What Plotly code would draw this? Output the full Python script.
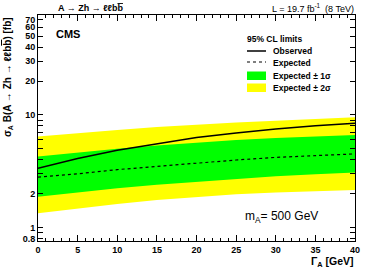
import plotly.graph_objects as go

# ---- data ----
width_gev = [0, 5, 10, 15, 20, 25, 30, 35, 40]
observed = [3.37, 4.10, 4.85, 5.50, 6.30, 6.90, 7.50, 8.00, 8.45]
expected = [2.80, 3.00, 3.27, 3.50, 3.75, 3.98, 4.20, 4.38, 4.51]
sig1_up = [4.27, 4.65, 5.00, 5.35, 5.70, 6.00, 6.25, 6.45, 6.65]
sig1_dn = [1.88, 2.05, 2.23, 2.40, 2.55, 2.72, 2.85, 2.97, 3.08]
sig2_up = [6.42, 6.90, 7.35, 7.80, 8.20, 8.55, 8.90, 9.25, 9.54]
sig2_dn = [1.34, 1.48, 1.62, 1.76, 1.88, 1.98, 2.05, 2.11, 2.16]

y_tickvals = [0.8, 1, 2, 10, 20, 30, 40, 50, 60, 70]
y_ticktext = ["0.8", "1", "2", "10", "20", "30", "40", "50", "60", "70"]
y_minor = [0.9, 3, 4, 5, 6, 7, 8, 9]
y_long = [1, 10]
x_tickvals = [0, 5, 10, 15, 20, 25, 30, 35, 40]

FONT = "Liberation Sans, Arial, Helvetica, sans-serif"
YELLOW = "#FFFF00"
GREEN = "#00FF00"
BBAR = 'b<span style="text-decoration:overline">b</span>'

fig = go.Figure()
fig.add_trace(go.Scatter(x=width_gev, y=sig2_dn, mode="lines", line=dict(width=0),
                         showlegend=False, hoverinfo="skip"))
fig.add_trace(go.Scatter(x=width_gev, y=sig2_up, mode="lines", line=dict(width=0),
                         fill="tonexty", fillcolor=YELLOW, showlegend=False))
fig.add_trace(go.Scatter(x=width_gev, y=sig1_dn, mode="lines", line=dict(width=0),
                         showlegend=False, hoverinfo="skip"))
fig.add_trace(go.Scatter(x=width_gev, y=sig1_up, mode="lines", line=dict(width=0),
                         fill="tonexty", fillcolor=GREEN, showlegend=False))
fig.add_trace(go.Scatter(x=width_gev, y=expected, mode="lines",
                         line=dict(color="black", width=1.2, dash="dot"), showlegend=False))
fig.add_trace(go.Scatter(x=width_gev, y=observed, mode="lines",
                         line=dict(color="black", width=1.5), showlegend=False))

yrange = [-0.119, 1.887]

fig.update_layout(
    width=374, height=269,
    margin=dict(l=38, r=19, t=15, b=28),
    paper_bgcolor="white", plot_bgcolor="white",
    font=dict(family=FONT, color="black"),
    showlegend=False,
    xaxis=dict(
        range=[0, 40], tickmode="array", tickvals=x_tickvals,
        ticks="inside", ticklen=6, tickwidth=1, tickcolor="black",
        minor=dict(dtick=1, ticks="inside", ticklen=3, tickcolor="black"),
        showline=True, linecolor="black", linewidth=1, mirror="ticks",
        showgrid=False, zeroline=False,
        tickfont=dict(size=9, weight="bold", family=FONT),
    ),
    yaxis=dict(
        type="log", range=yrange, tickmode="array",
        tickvals=y_tickvals, ticktext=y_ticktext,
        ticks="inside", ticklen=5, tickwidth=1, tickcolor="black",
        minor=dict(tickmode="array", tickvals=y_minor, ticks="inside",
                   ticklen=5, tickcolor="black"),
        showline=True, linecolor="black", linewidth=1, mirror="ticks",
        showgrid=False, zeroline=False,
        tickfont=dict(size=9, weight="bold", family=FONT),
    ),
    yaxis2=dict(
        type="log", range=yrange, overlaying="y", anchor="x", side="left",
        tickmode="array", tickvals=y_long, ticks="inside", ticklen=9,
        tickcolor="black", showticklabels=False, showgrid=False,
        zeroline=False, showline=False, mirror="ticks",
    ),
)

def px_to_paper(px, py):
    return (px - 38) / 317.0, (241 - py) / 226.0

anns = []
def ann(text, px, py, xanchor="left", size=9, bold=False, **kw):
    x, y = px_to_paper(px, py)
    anns.append(dict(text=text, x=x, y=y, xref="paper", yref="paper",
                     xanchor=xanchor, yanchor="middle", showarrow=False,
                     font=dict(size=size, family=FONT, color="black",
                               weight="bold" if bold else "normal"), **kw))

ann("A \u2192 Zh \u2192 \u2113\u2113" + BBAR, 56, 8, size=9, bold=True)
ann("L = 19.7 fb<sup>-1</sup>  (8 TeV)", 356, 8, xanchor="right", size=9)
ann("CMS", 54, 34, size=11, bold=True)
ann("95% CL limits", 245, 39, size=8.5, bold=True)
ann("Observed", 271, 51.5, size=8.5, bold=True)
ann("Expected", 271, 62.5, size=8.5, bold=True)
ann("Expected \u00b1 1\u03c3", 271, 75.5, size=8.5, bold=True)
ann("Expected \u00b1 2\u03c3", 271, 87.5, size=8.5, bold=True)
ann("m<sub>A</sub>= 500 GeV", 243, 216.5, size=12)
ann("\u0393<sub>A</sub> [GeV]", 356, 261.5, xanchor="right", size=10.5, bold=True)

x, y = px_to_paper(8, 15)
anns.append(dict(text="\u03c3<sub>A</sub> B(A \u2192 Zh \u2192 \u2113\u2113" + BBAR + ") [fb]",
                 x=x, y=y, xref="paper", yref="paper", xanchor="center",
                 yanchor="top", textangle=-90, showarrow=False,
                 font=dict(size=10, family=FONT, color="black", weight="bold")))
fig.update_layout(annotations=anns)

# legend keys (decorations in paper coordinates)
def key_line(py, dash):
    x0, y0 = px_to_paper(247, py)
    x1, _ = px_to_paper(266, py)
    fig.add_shape(type="line", x0=x0, x1=x1, y0=y0, y1=y0, xref="paper", yref="paper",
                  line=dict(color="black", width=1.5 if dash == "solid" else 1.2, dash=dash))

def key_box(py0, py1, color):
    x0, y0 = px_to_paper(247, py0)
    x1, y1 = px_to_paper(266, py1)
    fig.add_shape(type="rect", x0=x0, x1=x1, y0=y0, y1=y1, xref="paper", yref="paper",
                  line=dict(width=0), fillcolor=color)

key_line(51, "solid")
key_line(62, "dot")
key_box(71.5, 80, GREEN)
key_box(83.5, 92, YELLOW)

fig.write_html("out.html", config={"displayModeBar": False},
               post_script="document.body.style.margin='0';document.body.style.padding='0';")
